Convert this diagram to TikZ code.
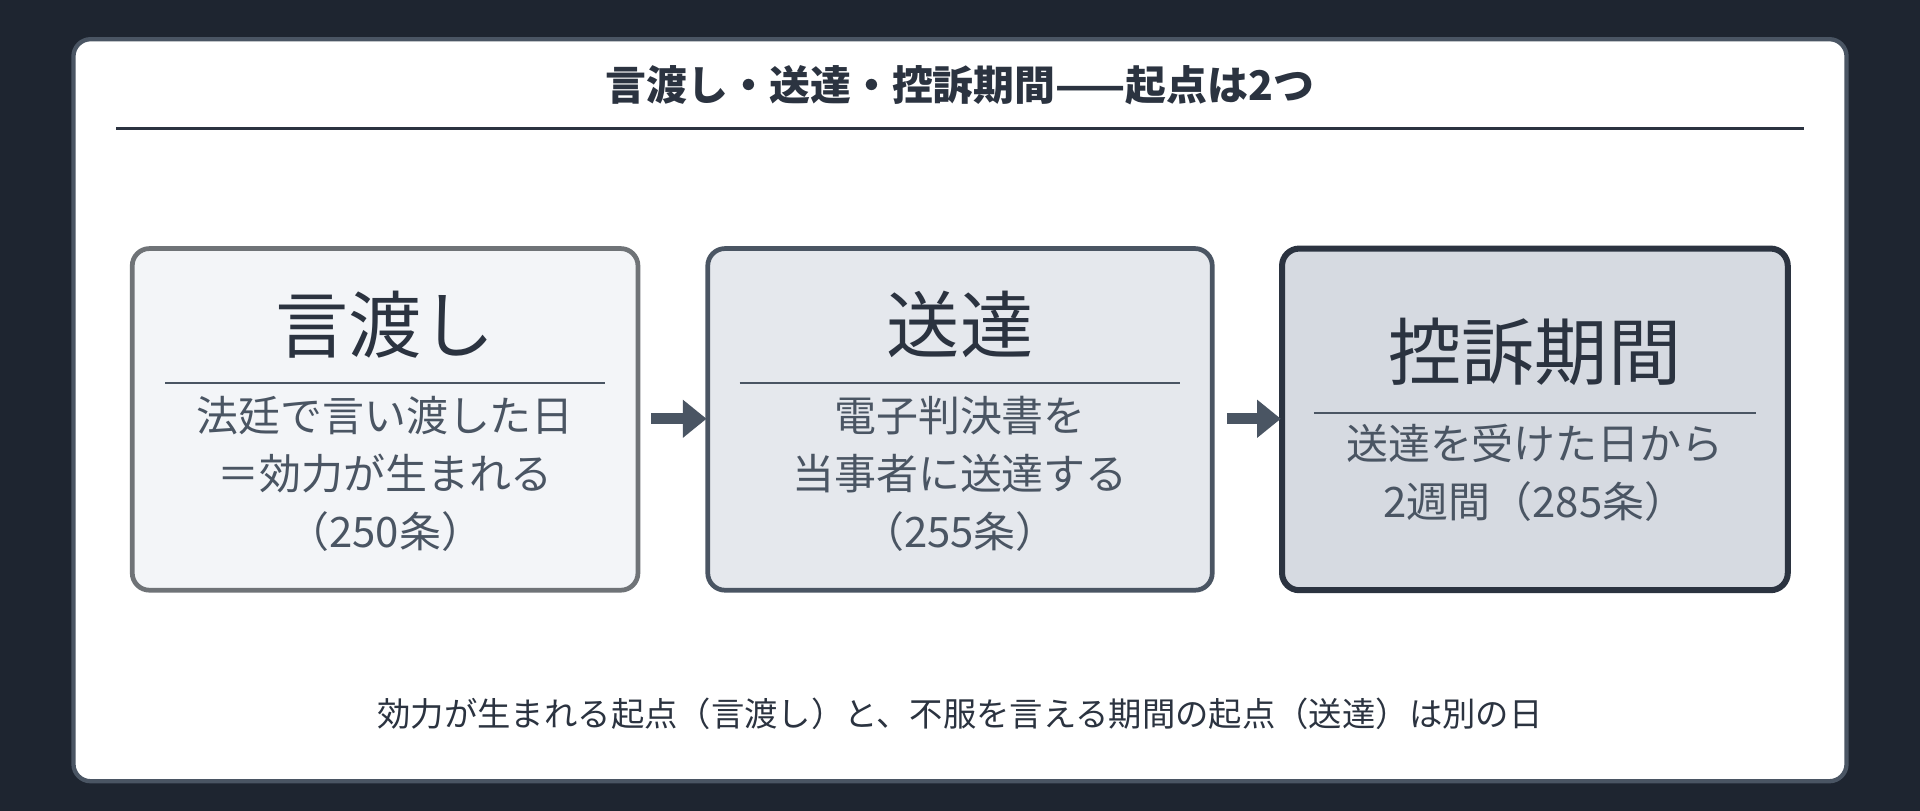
\documentclass[tikz,border=0pt]{standalone}
\usepackage{fontspec}
\setmainfont{Noto Sans CJK JP}
\usetikzlibrary{arrows.meta}
\definecolor{bg}{HTML}{1E2530}
\definecolor{ink}{HTML}{2B3340}
\definecolor{sub}{HTML}{4A5563}
\tikzset{
 box/.style={rounded corners=8pt,line width=2.2pt},
 big/.style={font=\fontsize{34}{40}\selectfont,text=ink},
 small/.style={font=\fontsize{19.5}{27}\selectfont,text=sub,align=center},
 rule/.style={draw=sub,line width=0.8pt},
 arr/.style={-{Triangle[length=11pt,width=17pt]},line width=5pt,draw=sub}
}
\begin{document}
\begin{tikzpicture}[x=0.02cm,y=-0.02cm]
\fill[bg] (0,0) rectangle (1568,662);
\useasboundingbox (0,0) rectangle (1568,662);
\filldraw[fill=white,draw=sub,line width=2pt,rounded corners=8pt] (60,32) rectangle (1508,638);
\node[font=\fontsize{19}{22}\bfseries\selectfont,text=ink] (title) at (784,70) {言渡し・送達・控訴期間——起点は2つ};
\draw[ink,line width=1.2pt] (95,105) -- (1473,105);
\draw[box,draw=gray!70!sub,fill={rgb,255:red,243;green,245;blue,248}] (108,203) rectangle (521,482);
\draw[box,draw=sub,fill={rgb,255:red,229;green,232;blue,237}] (578,203) rectangle (990,482);
\draw[box,draw=ink,line width=2.8pt,fill={rgb,255:red,214;green,218;blue,225}] (1047,203) rectangle (1460,482);
\node[big] (t1) at (314.5,265) {言渡し};
\draw[rule] (135,313) -- (494,313);
\node[small] (s1) at (314.5,387) {法廷で言い渡した日\\＝効力が生まれる\\（250条）};
\node[big] (t2) at (784,265) {送達};
\draw[rule] (604,313) -- (964,313);
\node[small] (s2) at (784,387) {電子判決書を\\当事者に送達する\\（255条）};
\node[big] (t3) at (1253.5,287) {控訴期間};
\draw[rule] (1073,337) -- (1434,337);
\node[small] (s3) at (1253.5,386) {送達を受けた日から\\2週間（285条）};
\coordinate (a1) at (532,342); \coordinate (b1) at (577,342);
\coordinate (a2) at (1002,342); \coordinate (b2) at (1046,342);
\draw[arr] (a1) -- (b1);
\draw[arr] (a2) -- (b2);
\node[font=\fontsize{15.5}{18}\selectfont,text=ink] (note) at (784,583) {効力が生まれる起点（言渡し）と、不服を言える期間の起点（送達）は別の日};
\end{tikzpicture}
\end{document}
